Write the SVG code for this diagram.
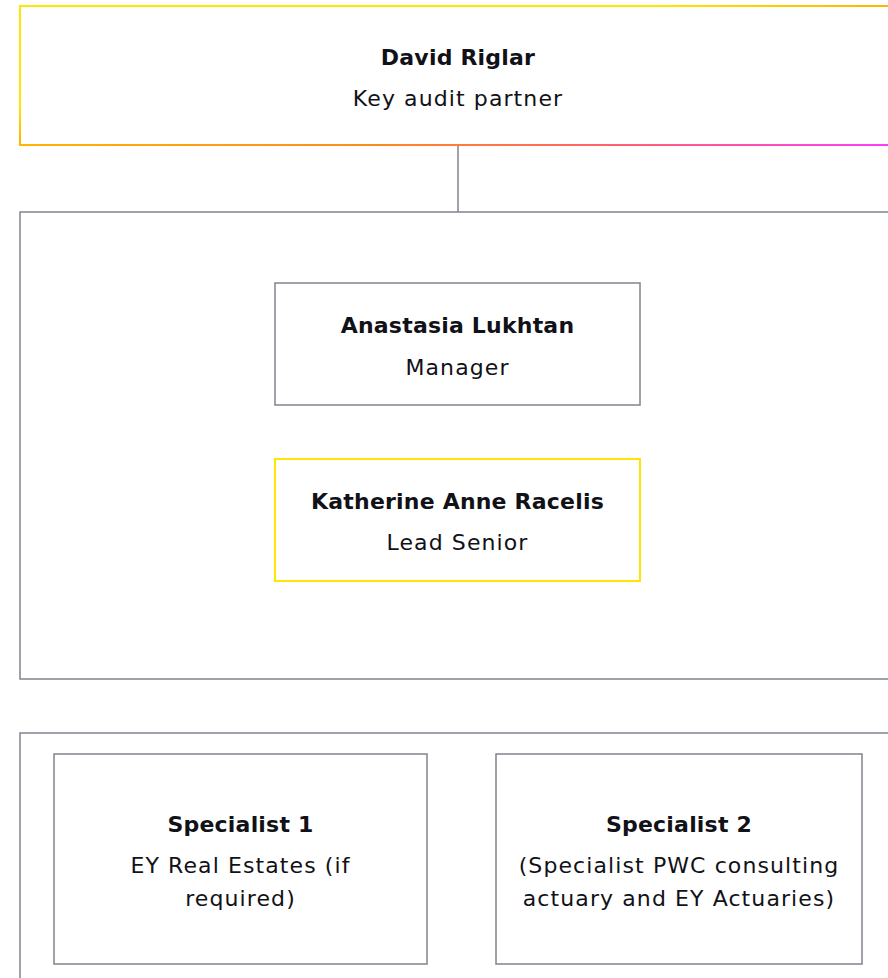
<svg xmlns="http://www.w3.org/2000/svg" width="888" height="978" viewBox="0 0 888 978">
<defs>
<linearGradient id="topGrad" x1="0" y1="0" x2="1" y2="1" gradientUnits="objectBoundingBox">
<stop offset="0" stop-color="#ffe600"/>
<stop offset="0.36" stop-color="#ffe600"/>
<stop offset="0.48" stop-color="#ffb800"/>
<stop offset="0.7" stop-color="#ff8a1e"/>
<stop offset="0.84" stop-color="#ff6070"/>
<stop offset="1" stop-color="#ff3cff"/>
</linearGradient>
<style>
.frame{fill:#ffffff;stroke:#82828e;stroke-width:1.5}
.box{fill:#ffffff;stroke:#82828e;stroke-width:1.5}
.yellow{fill:#ffffff;stroke:#ffe600;stroke-width:2}
.grad{fill:#ffffff;stroke:url(#topGrad);stroke-width:2}
.conn{stroke:#82828e;stroke-width:1.5;fill:none}
text{font-family:"DejaVu Sans","Liberation Sans",sans-serif;font-size:22px;fill:#111118;text-anchor:middle}
.b{font-weight:bold;letter-spacing:0.2px}
.r{letter-spacing:1.1px}
</style>
</defs>
<g id="connectors">
<line class="conn" x1="458" y1="145" x2="458" y2="212"/>
</g>
<g id="partner">
<rect class="grad" x="20" y="6" width="880" height="139"/>
<text class="b" x="458" y="65">David Riglar</text>
<text class="r" x="458" y="106">Key audit partner</text>
</g>
<g id="core-team">
<rect class="frame" x="20" y="212" width="880" height="467"/>
</g>
<g id="manager">
<rect class="box" x="275" y="283" width="365" height="122"/>
<text class="b" x="457.5" y="333">Anastasia Lukhtan</text>
<text class="r" x="457.5" y="375">Manager</text>
</g>
<g id="lead-senior">
<rect class="yellow" x="275" y="459" width="365" height="122"/>
<text class="b" x="457.5" y="509">Katherine Anne Racelis</text>
<text class="r" x="457.5" y="550">Lead Senior</text>
</g>
<g id="specialists">
<rect class="frame" x="20" y="733" width="880" height="260"/>
</g>
<g id="specialist-1">
<rect class="box" x="54" y="754" width="373" height="210"/>
<text class="b" x="240.5" y="832">Specialist 1</text>
<text class="r" x="240.5" y="873">EY Real Estates (if</text>
<text class="r" x="240.5" y="906">required)</text>
</g>
<g id="specialist-2">
<rect class="box" x="496" y="754" width="366" height="210"/>
<text class="b" x="679" y="832">Specialist 2</text>
<text class="r" x="679" y="873">(Specialist PWC consulting</text>
<text class="r" x="679" y="906">actuary and EY Actuaries)</text>
</g>
</svg>
